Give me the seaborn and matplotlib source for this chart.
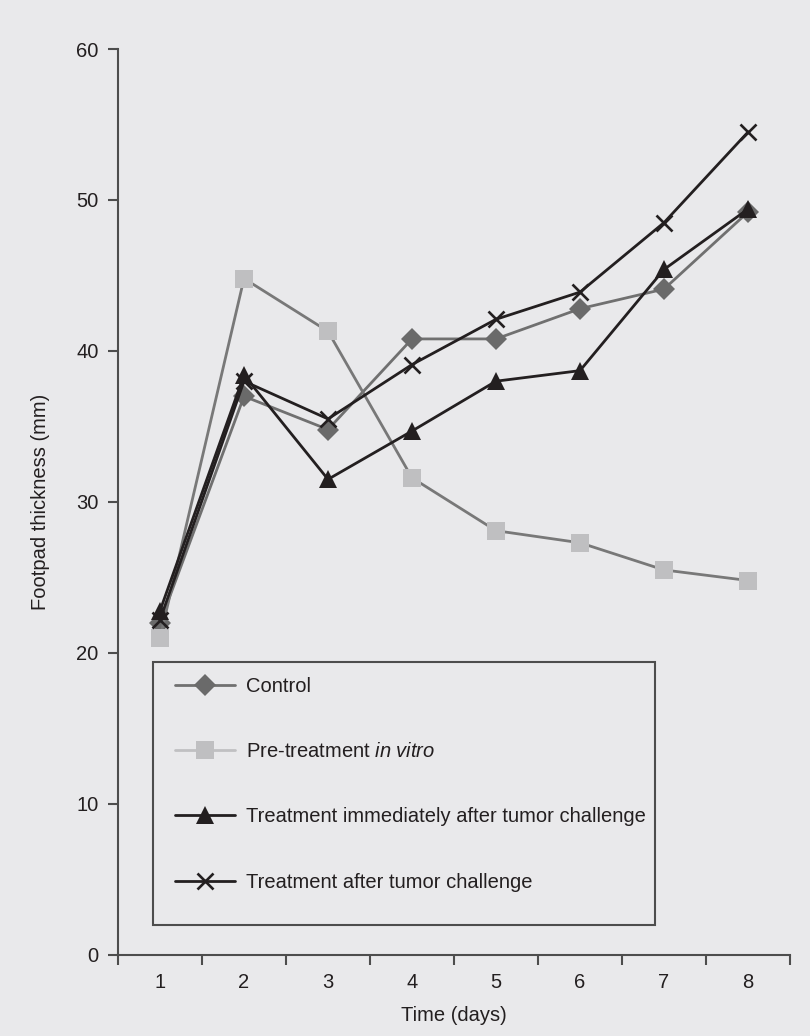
import numpy as np
import pandas as pd
import matplotlib
matplotlib.use('Agg')
import matplotlib.pyplot as plt
from matplotlib.lines import Line2D
from matplotlib.patches import Rectangle
from matplotlib.ticker import FixedLocator, NullFormatter
import seaborn as sns

# data
days = [1, 2, 3, 4, 5, 6, 7, 8]
control = [22.0, 37.0, 34.8, 40.8, 40.8, 42.8, 44.1, 49.2]
pre_treatment = [21.0, 44.8, 41.3, 31.6, 28.1, 27.3, 25.5, 24.8]
treat_immediate = [22.8, 38.4, 31.5, 34.7, 38.0, 38.7, 45.4, 49.4]
treat_after = [22.2, 38.0, 35.5, 39.1, 42.1, 43.9, 48.5, 54.5]

groups = ['Control', 'Pre-treatment', 'Treatment immediately', 'Treatment after']
legend_labels = ['Control',
                 r'Pre-treatment $\it{in\ vitro}$',
                 'Treatment immediately after tumor challenge',
                 'Treatment after tumor challenge']
yticks = [0, 10, 20, 30, 40, 50, 60]

sns.set_theme(style='ticks')
bg = '#e9e9eb'
plt.rcParams['font.family'] = ['Liberation Sans', 'DejaVu Sans']
plt.rcParams['mathtext.fontset'] = 'custom'
plt.rcParams['mathtext.rm'] = 'Liberation Sans'
plt.rcParams['mathtext.it'] = 'Liberation Sans:italic'

df = pd.DataFrame({
    'day': days * 4,
    'value': control + pre_treatment + treat_immediate + treat_after,
    'group': np.repeat(groups, len(days)),
})

line_colors = {'Control': '#707070', 'Pre-treatment': '#787878',
               'Treatment immediately': '#231f20', 'Treatment after': '#231f20'}
marker_colors = {'Control': '#6a6a6a', 'Pre-treatment': '#bfbfc1',
                 'Treatment immediately': '#231f20', 'Treatment after': '#231f20'}
markers = {'Control': 'D', 'Pre-treatment': 's',
           'Treatment immediately': '^', 'Treatment after': 'x'}
msizes = {'Control': 11.5, 'Pre-treatment': 12.5,
          'Treatment immediately': 13, 'Treatment after': 11}
medge = {'Control': 0, 'Pre-treatment': 0,
         'Treatment immediately': 0, 'Treatment after': 1.9}

fs = 14.5

fig = plt.figure(figsize=(8.1, 10.36), dpi=100, facecolor=bg)
ax = fig.add_axes([0.1457, 0.0782, 0.8296, 0.8745], facecolor=bg)

for g in groups:
    sub = df[df['group'] == g]
    sns.lineplot(data=sub, x='day', y='value', ax=ax, color=line_colors[g],
                 linewidth=2.0, marker=markers[g], markersize=msizes[g],
                 markerfacecolor=marker_colors[g], markeredgecolor=marker_colors[g],
                 markeredgewidth=medge[g], legend=False)

ax.set_xlim(0.5, 8.5)
ax.set_ylim(0, 60)
ax.set_yticks(yticks)
ax.xaxis.set_major_locator(FixedLocator(np.arange(0.5, 9.0, 1.0)))
ax.xaxis.set_major_formatter(NullFormatter())
ax.xaxis.set_minor_locator(FixedLocator(days))
ax.set_xticklabels([str(d) for d in days], minor=True)
ax.tick_params(axis='x', which='minor', length=0, pad=13, labelsize=fs, colors='#231f20')
ax.tick_params(axis='x', which='major', length=7, width=1.5, color='#4d4d4d')
ax.tick_params(axis='y', length=7, width=1.5, color='#4d4d4d', labelsize=fs,
               labelcolor='#231f20', pad=7)

sns.despine(ax=ax)
for side in ['left', 'bottom']:
    ax.spines[side].set_color('#4d4d4d')
    ax.spines[side].set_linewidth(1.5)

ax.set_xlabel('Time (days)', fontsize=fs, color='#231f20', labelpad=10)
ax.set_ylabel('Footpad thickness (mm)', fontsize=fs, color='#231f20', labelpad=19)

# legend box
ax.add_patch(Rectangle((0.052, 0.033), 0.747, 0.29, transform=ax.transAxes,
                       fill=False, edgecolor='#4d4d4d', linewidth=1.5, zorder=3))
handles = []
for g in groups:
    lc = '#c0c0c2' if g == 'Pre-treatment' else line_colors[g]
    handles.append(Line2D([], [], color=lc, linewidth=2.0, marker=markers[g],
                          markersize=msizes[g], markerfacecolor=marker_colors[g],
                          markeredgecolor=marker_colors[g], markeredgewidth=medge[g]))
ax.legend(handles, legend_labels, loc='upper left', bbox_to_anchor=(0.0725, 0.316),
          frameon=False, fontsize=fs, handlelength=3.0, handletextpad=0.55,
          labelspacing=2.3, labelcolor='#231f20', borderaxespad=0)

fig.savefig('out.png', dpi=100, facecolor=bg)
